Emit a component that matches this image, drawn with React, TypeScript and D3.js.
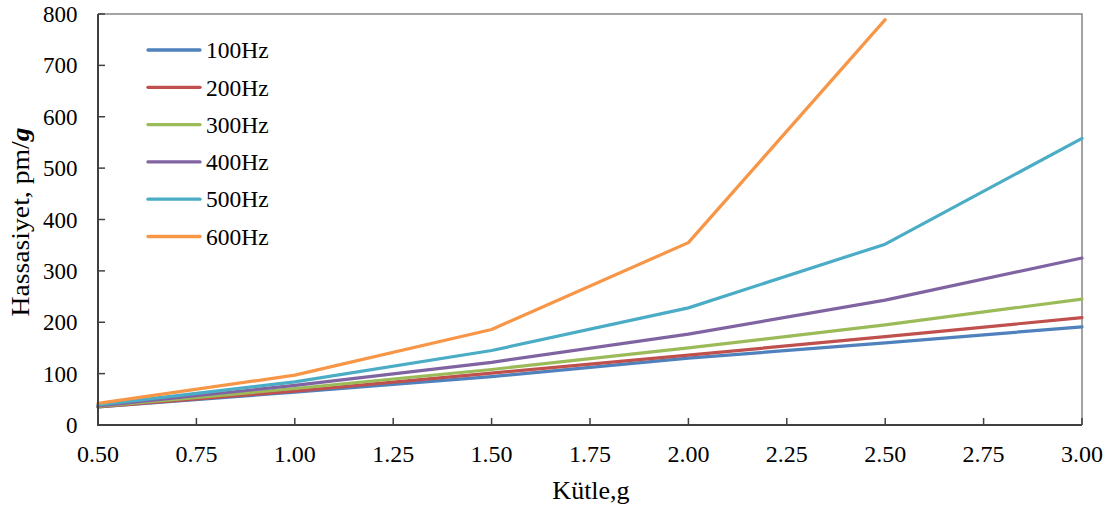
import React from "react";
import * as d3 from "d3";

const masses = [0.5, 1.0, 1.5, 2.0, 2.5, 3.0];
const seriesNames = ["100Hz", "200Hz", "300Hz", "400Hz", "500Hz", "600Hz"];
const s100 = [35, 64, 94, 130, 160, 191];
const s200 = [35, 66, 101, 136, 172, 209];
const s300 = [36, 71, 108, 150, 195, 245];
const s400 = [37, 77, 122, 177, 243, 325];
const s500 = [39, 84, 145, 228, 352, 558];
const s600 = [42, 97, 186, 355, 789];
const seriesValues = [s100, s200, s300, s400, s500, s600];
const colors = ["#4F81BD", "#C0504D", "#9BBB59", "#8064A2", "#4BACC6", "#F79646"];
const xTicks = [0.5, 0.75, 1.0, 1.25, 1.5, 1.75, 2.0, 2.25, 2.5, 2.75, 3.0];
const yTicks = [0, 100, 200, 300, 400, 500, 600, 700, 800];

const W = 1114;
const H = 508;
const L = 98, R = 1082, T = 14, B = 425;
const FONT = "'Liberation Serif', 'Times New Roman', serif";

export default function App() {
  const x = d3.scaleLinear().domain([0.5, 3.0]).range([L, R]);
  const y = d3.scaleLinear().domain([0, 800]).range([B, T]);
  const line = d3
    .line<[number, number]>()
    .x((d) => x(d[0]))
    .y((d) => y(d[1]));

  return (
    <svg
      width={W}
      height={H}
      style={{ position: "absolute", left: 0, top: 0, background: "#fff" }}
      fontFamily={FONT}
    >
      <path d={`M${L},${T}H${R}V${B}`} fill="none" stroke="#868686" strokeWidth={1.5} />
      {seriesValues.map((vals, i) => (
        <path
          key={seriesNames[i]}
          d={line(vals.map((v, j) => [masses[j], v] as [number, number])) || ""}
          fill="none"
          stroke={colors[i]}
          strokeWidth={3.2}
          strokeLinejoin="round"
          strokeLinecap="round"
        />
      ))}
      <line x1={L} x2={L} y1={T} y2={B} stroke="#404040" strokeWidth={2} />
      <line x1={L - 1} x2={R} y1={B} y2={B} stroke="#404040" strokeWidth={2} />
      {yTicks.map((t) => (
        <g key={"y" + t}>
          <line x1={L} x2={L + 7} y1={y(t)} y2={y(t)} stroke="#404040" strokeWidth={1.5} />
          <text x={77.5} y={y(t)} dy="0.35em" textAnchor="end" fontSize={23} fill="#000">
            {t}
          </text>
        </g>
      ))}
      {xTicks.map((t) => (
        <g key={"x" + t}>
          <line x1={x(t)} x2={x(t)} y1={B} y2={B - 7} stroke="#404040" strokeWidth={1.5} />
          <text x={x(t)} y={461.5} textAnchor="middle" fontSize={24} fill="#000">
            {t.toFixed(2)}
          </text>
        </g>
      ))}
      <text x={591} y={499} textAnchor="middle" fontSize={26} fill="#000">
        Kütle,g
      </text>
      <text
        transform={`translate(28.5,222) rotate(-90)`}
        textAnchor="middle"
        fontSize={26}
        fill="#000"
        textLength={189}
        lengthAdjust="spacingAndGlyphs"
      >
        Hassasiyet, pm/<tspan fontWeight="bold" fontStyle="italic">g</tspan>
      </text>
      {seriesNames.map((n, i) => {
        const ly = 50 + i * 37.3;
        return (
          <g key={"lg" + n}>
            <line x1={148} x2={200} y1={ly} y2={ly} stroke={colors[i]} strokeWidth={3.3} strokeLinecap="round" />
            <text x={206} y={ly} dy="0.35em" fontSize={23.5} fill="#000">
              {n}
            </text>
          </g>
        );
      })}
    </svg>
  );
}
